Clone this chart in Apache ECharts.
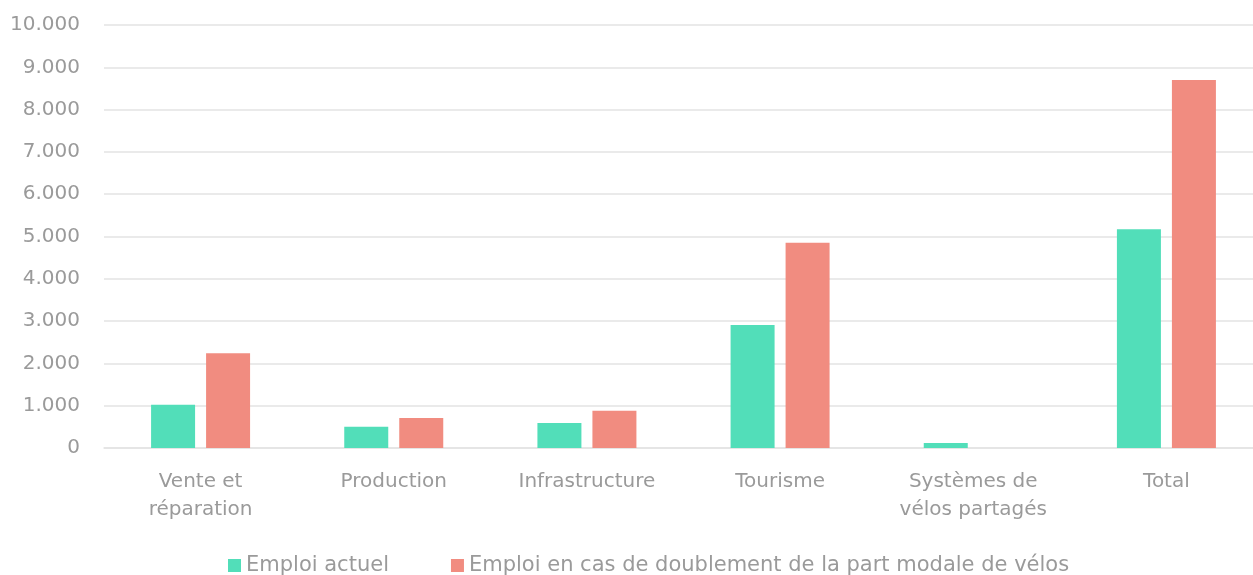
<!DOCTYPE html>
<html>
<head>
<meta charset="utf-8">
<script src="https://cdn.jsdelivr.net/npm/echarts@6/dist/echarts.min.js"></script>
<style>
  html, body { margin: 0; padding: 0; background: #fff; }
  #main { width: 1253px; height: 575px; }
</style>
</head>
<body>
<div id="main"></div>
<script>
// categories (x axis)
const categories = ['Vente et\nréparation', 'Production', 'Infrastructure', 'Tourisme', 'Systèmes de\nvélos partagés', 'Total']
// series values
const emploiActuel = [1020, 500, 590, 2910, 120, 5170]
const emploiDoublement = [2240, 710, 880, 4850, 0, 8700]
const seriesNames = ['Emploi actuel', 'Emploi en cas de doublement de la part modale de vélos']

const textColor = '#9a9a9a'
const font = 'DejaVu Sans'

// 10000 -> "10.000"
function fmt (v) {
  return String(v).replace(/\B(?=(\d{3})+(?!\d))/g, '.')
}

const chart = echarts.init(document.getElementById('main'))
chart.setOption({
  animation: false,
  textStyle: { fontFamily: font },
  grid: {
    left: 104,
    width: 1159,
    top: 25,
    bottom: 127,
    outerBoundsMode: 'none'
  },
  legend: {
    left: 223,
    top: 550,
    itemWidth: 13,
    itemHeight: 13,
    itemGap: 62,
    icon: 'rect',
    textStyle: { color: textColor, fontSize: 21, fontFamily: font },
    data: seriesNames
  },
  xAxis: {
    type: 'category',
    data: categories,
    axisLine: { lineStyle: { color: '#e3e3e3', width: 1.5 } },
    axisTick: { show: false },
    axisLabel: {
      color: textColor,
      fontSize: 20,
      fontFamily: font,
      lineHeight: 28,
      margin: 20,
      interval: 0
    }
  },
  yAxis: {
    type: 'value',
    min: 0,
    max: 10000,
    interval: 1000,
    axisLine: { show: false },
    axisTick: { show: false },
    splitLine: { lineStyle: { color: '#e3e3e3', width: 1.5 } },
    axisLabel: {
      color: textColor,
      fontSize: 20,
      fontFamily: font,
      margin: 24,
      formatter: fmt
    }
  },
  series: [
    {
      name: seriesNames[0],
      type: 'bar',
      data: emploiActuel,
      barWidth: 44,
      barGap: '25%',
      itemStyle: { color: '#52deb9' }
    },
    {
      name: seriesNames[1],
      type: 'bar',
      data: emploiDoublement,
      barWidth: 44,
      barGap: '25%',
      itemStyle: { color: '#f18c80' }
    }
  ]
})
</script>
</body>
</html>
